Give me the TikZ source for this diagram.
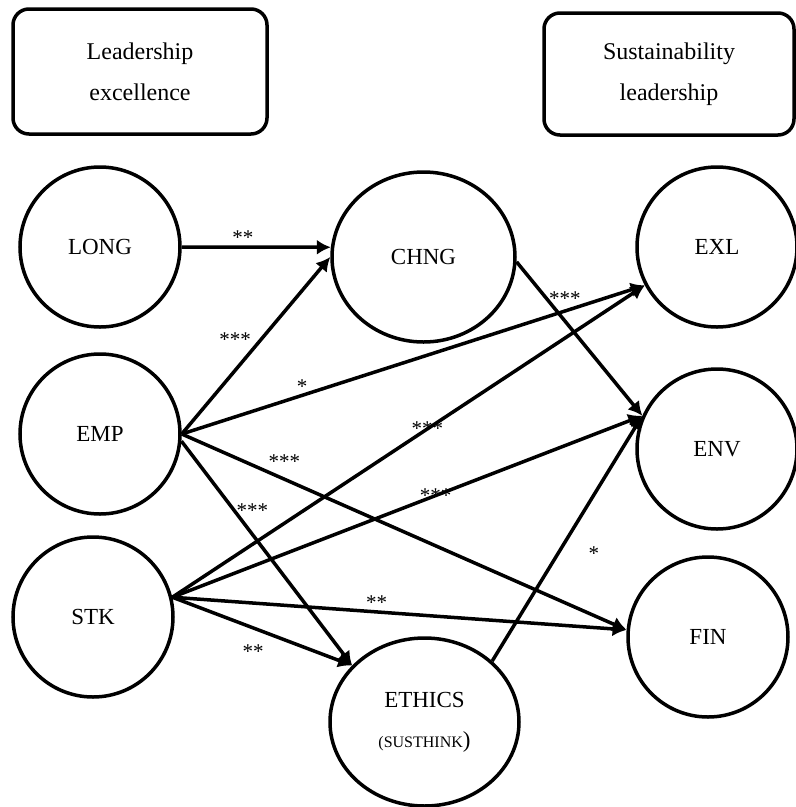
\documentclass[tikz,border=0pt]{standalone}
\usepackage{fontspec}
\setmainfont{Liberation Serif}
\usepackage{tikz}
\usetikzlibrary{arrows.meta, positioning, shapes.geometric}

\begin{document}
\begin{tikzpicture}[-,>={Latex[length=14pt,width=15pt]},x=1pt,y=1pt,line width=3.5pt,
                    main node/.style={circle,draw,minimum size=160pt,inner sep=0pt,font=\fontsize{23}{27}\selectfont},
                    oval node/.style={ellipse,draw,inner sep=0pt,align=center,font=\fontsize{23}{40}\selectfont},
                    title box/.style={draw,rounded corners=16pt,align=center,minimum width=254pt,minimum height=125pt,
                                      font=\fontsize{24}{41}\selectfont},
                    sig label/.style={font=\fontsize{21}{24}\selectfont,inner sep=0.5pt}]

  \useasboundingbox (0,0) rectangle (796,-807);

  \node[title box] (LEAD) at (140,-71.5) {Leadership\\excellence};
  \node[title box, minimum width=250pt, minimum height=122pt] (SUST) at (669,-74) {Sustainability\\leadership};

  \node[main node] (LONG) at (100,-247) {LONG};
  \node[main node] (EMP) [below of=LONG, node distance=187pt] {EMP};
  \node[main node] (STK) [below of=EMP, node distance=183pt, xshift=-7pt] {STK};

  \node[oval node, minimum width=183pt, minimum height=170pt] (CHNG) at (423.5,-257) {CHNG};
  \node[oval node, minimum width=189pt, minimum height=168pt] (ETHICS) at (424.5,-722)
       {ETHICS\\{\fontsize{16}{18}\selectfont(SUSTHINK})};

  \node[main node] (EXL) at (717,-247) {EXL};
  \node[main node] (ENV) [below of=EXL, node distance=202pt] {ENV};
  \node[main node] (FIN) [below of=ENV, node distance=188pt, xshift=-9pt] {FIN};

  \path[->, every node/.style={sig label}]
    (LONG.east) edge node [above, pos=.41] {**} (CHNG.174)
    (EMP.east) edge node [above left, pos=.48] {***} (CHNG.west)
    (EMP.east) edge node [above, pos=.26] {*} (EXL.208)
    (EMP.east) edge node [above right, pos=.19] {***} (FIN.175)
    (EMP.355) edge node [right, pos=.31] {***} (ETHICS.142)
    (STK.14) edge node [pos=.54] {***} (EXL.208)
    (STK.14) edge node [pos=.56] {***} (ENV.156)
    (STK.14) edge node [above, pos=.45] {**} (FIN.175)
    (STK.14) edge node [below=15pt, pos=.45] {**} (ETHICS.142)
    (CHNG.357) edge node [right, pos=.24] {***} (ENV.156)
    (ETHICS.42) edge node [right=28pt, pos=.44] {*} (ENV.156);

\end{tikzpicture}
\end{document}
